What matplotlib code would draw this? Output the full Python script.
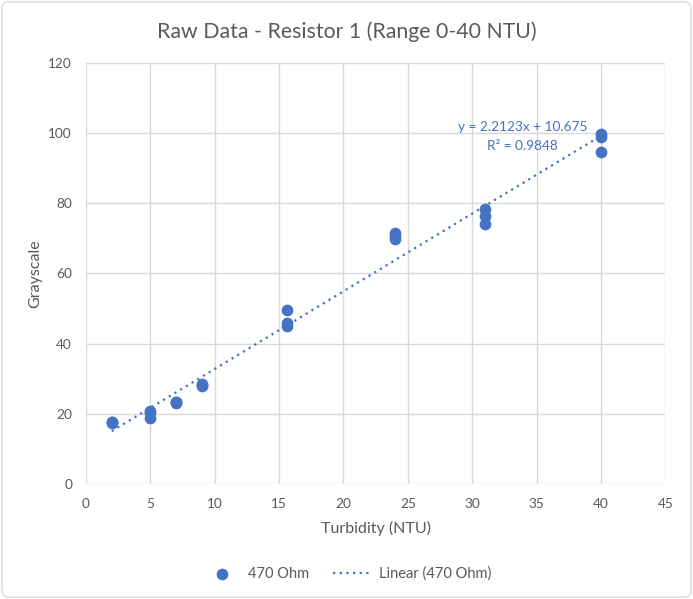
import matplotlib.pyplot as plt
import numpy as np
from matplotlib.patches import FancyBboxPatch

plt.rcParams['font.family'] = ['Lato', 'DejaVu Sans']

turbidity = [2, 2, 2, 5, 5, 5, 7, 7, 7, 9, 9, 9,
             15.6, 15.6, 15.6, 24, 24, 24, 31, 31, 31, 40, 40, 40]
grayscale = [17.5, 17.8, 17.6, 20.9, 20.3, 18.9, 23.2, 23.5, 23.4, 27.8, 28.4, 28.1,
             49.5, 45.9, 45.1, 71.6, 70.8, 69.8, 78.4, 76.4, 74.1, 99.8, 98.9, 94.6]
x_ticks = [0, 5, 10, 15, 20, 25, 30, 35, 40, 45]
y_ticks = [0, 20, 40, 60, 80, 100, 120]

blue = '#4472C4'
grey = '#595959'

fig = plt.figure(figsize=(6.93, 5.99), dpi=100)
ax = fig.add_axes([0.124, 0.192, 0.836, 0.703])

ax.scatter(turbidity, grayscale, s=55, color=blue, zorder=3, label='470 Ohm')

slope, intercept = np.polyfit(turbidity, grayscale, 1)
xs = np.array([min(turbidity), max(turbidity)])
ax.plot(xs, slope * xs + intercept, linestyle=(0, (1, 2)), color=blue, lw=1.6,
        zorder=2, label='Linear (470 Ohm)')

ax.text(33.9, 101.6, 'y = 2.2123x + 10.675', color=blue, fontsize=9.8, ha='center', va='center')
ax.text(33.9, 96.2, 'R² = 0.9848', color=blue, fontsize=9.8, ha='center', va='center')

ax.set_xlim(0, 45)
ax.set_ylim(0, 120)
ax.set_xticks(x_ticks)
ax.set_yticks(y_ticks)
ax.grid(True, color='#d9d9d9', lw=1)
ax.set_axisbelow(True)
for s in ax.spines.values():
    s.set_visible(False)
ax.tick_params(length=0, labelsize=9.8, labelcolor=grey, pad=10)

ax.set_xlabel('Turbidity (NTU)', fontsize=11.5, color=grey, labelpad=8)
ax.set_ylabel('Grayscale', fontsize=11.5, color=grey, labelpad=4)
fig.text(0.5, 0.947, 'Raw Data - Resistor 1 (Range 0-40 NTU)', ha='center', va='center',
         fontsize=15.3, color=grey)

leg = fig.legend(loc='center', bbox_to_anchor=(0.5, 0.042), ncol=2, frameon=False,
                 fontsize=10.5, handlelength=2.8, handletextpad=0.4, columnspacing=1.6)
for t in leg.get_texts():
    t.set_color(grey)

fig.patches.append(FancyBboxPatch((0.003, 0.003), 0.994, 0.994, boxstyle='round,pad=0,rounding_size=0.01',
                                  transform=fig.transFigure, fill=False, edgecolor='#d9d9d9', lw=1))

fig.savefig('out.png', dpi=100)
